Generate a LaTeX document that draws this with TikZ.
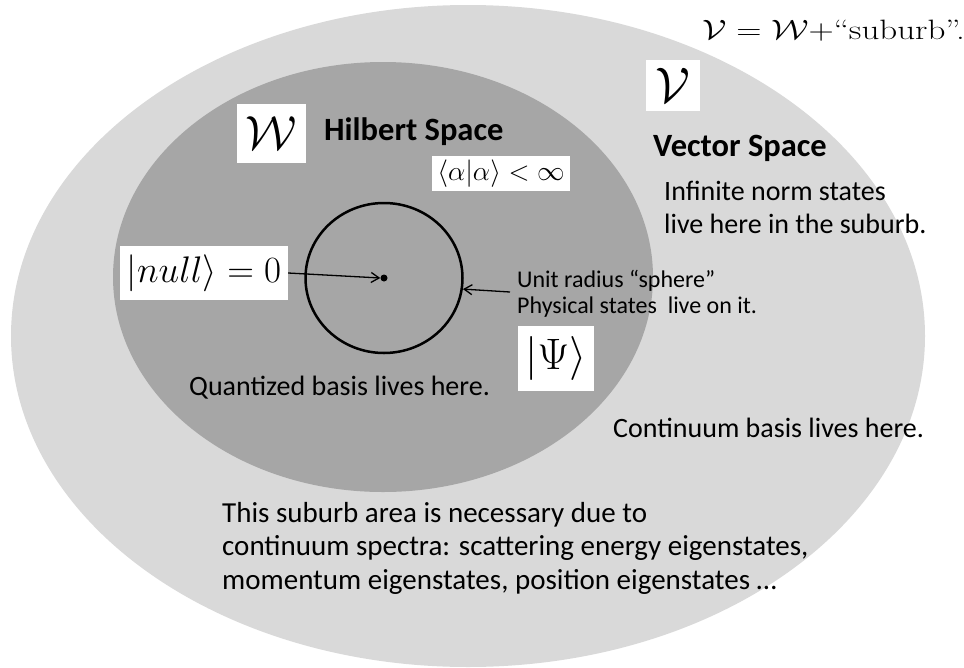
\documentclass[tikz,border=0pt]{standalone}
\usepackage{fix-cm}
\usepackage{fontspec}
\setsansfont{Carlito}
\usetikzlibrary{arrows.meta,shapes.geometric}
\definecolor{outerc}{HTML}{D9D9D9}
\definecolor{innerc}{HTML}{A6A6A6}
\begin{document}
\begin{tikzpicture}[x=1pt,y=-1pt,
  body/.style={font=\sffamily\fontsize{28}{30}\selectfont, inner sep=0, anchor=base west},
  bottom/.style={font=\sffamily\fontsize{29}{30}\selectfont, inner sep=0, anchor=base west},
  small/.style={font=\sffamily\fontsize{24}{28}\selectfont, inner sep=0, anchor=base west},
  head/.style={font=\sffamily\bfseries\fontsize{32.5}{34}\selectfont, inner sep=0, anchor=base west},
  mbox/.style={fill=white, inner sep=0},
  arr/.style={-{Straight Barb[length=8pt,width=10pt]}, line width=1.3pt},
]
\useasboundingbox (0,0) rectangle (964,667);
\fill[white] (0,0) rectangle (964,667);
% spaces
\fill[outerc] (468,336) ellipse [x radius=457, y radius=331];
\fill[innerc] (383,277) ellipse [x radius=270, y radius=215];
\node[draw, ellipse, line width=2.5pt, minimum width=157pt, minimum height=150pt, inner sep=0] (sphere) at (384,278) {};
\node[circle, fill=black, minimum size=7pt, inner sep=0] (dot) at (384,278) {};
% formula at top right
\node[mbox, anchor=base west, inner xsep=5pt, inner ysep=6pt, font=\rmfamily\fontsize{28}{30}\selectfont] (eq) at (697,39) {\scalebox{1.25}[1]{$\mathcal{V}=\mathcal{W}+$“suburb”.}};
% math boxes
\node[mbox, minimum width=54pt, minimum height=51pt, font=\fontsize{50}{52}\selectfont] (vbox) at (673,85.5) {$\mathcal{V}$};
\node[mbox, minimum width=69pt, minimum height=59pt, font=\fontsize{48}{50}\selectfont] (wbox) at (271.5,133.5) {$\mathcal{W}$};
\node[mbox, minimum width=138pt, minimum height=35pt, font=\fontsize{27.5}{30}\selectfont] (norm) at (501,173.5) {$\langle\alpha|\alpha\rangle<\infty$};
\node[mbox, minimum width=168pt, minimum height=54pt, font=\fontsize{37}{40}\selectfont] (null) at (204,273) {$|null\rangle=0$};
\node[mbox, minimum width=76pt, minimum height=65pt, font=\fontsize{44}{46}\selectfont] (psi) at (556,358.5) {$\left|\Psi\right\rangle$};
% headings
\node[head] (hilb) at (324,140) {Hilbert Space};
\node[head] (vec) at (653,156) {Vector Space};
% texts
\node[body] (inf1) at (664,200) {Infinite norm states};
\node[body] (inf2) at (664,233) {live here in the suburb.};
\node[small] (unit1) at (517,287) {Unit radius “sphere”};
\node[small] (unit2) at (517,313) {Physical states\ \ live on it.};
\node[body] (quant) at (189,395) {Quantized basis lives here.};
\node[body] (cont) at (613,437) {Continuum basis lives here.};
\node[bottom] (sub1) at (222,522) {This suburb area is necessary due to};
\node[bottom] (sub2) at (222,555) {continuum spectra: scattering energy eigenstates,};
\node[bottom] (sub3) at (222,589) {momentum eigenstates, position eigenstates …};
% arrows
\coordinate (ustart) at (510,292);
\draw[arr] (null.east) -- (dot.west);
\draw[arr] (ustart) -- (sphere.-8);
\end{tikzpicture}
\end{document}
